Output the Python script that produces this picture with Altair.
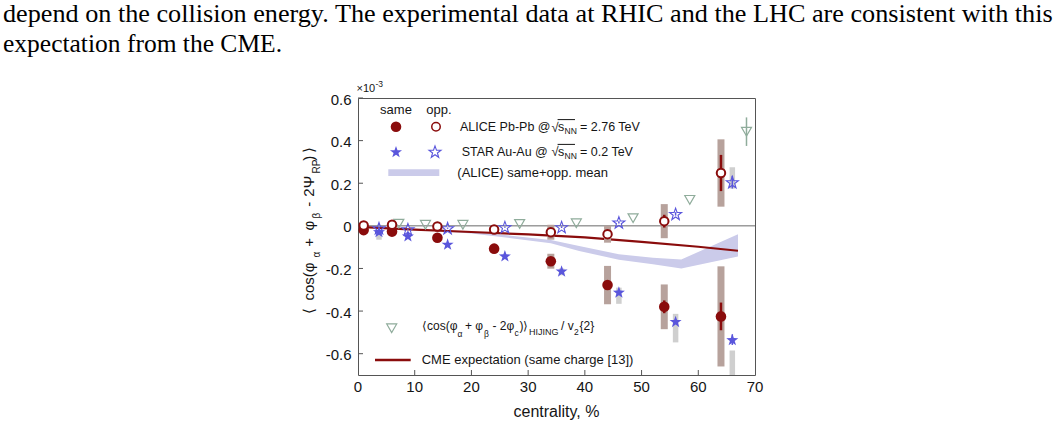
import math
import altair as alt
import pandas as pd

# ---------------- data (units of 1e-3) ----------------
x_ticks = [0, 10, 20, 30, 40, 50, 60, 70]
y_ticks = [-0.6, -0.4, -0.2, 0, 0.2, 0.4, 0.6]
x_minor = [10, 20, 30, 40, 50, 60]

alice_x = [1, 6, 14, 24, 34, 44, 54, 64]
alice_same = [-0.020, -0.027, -0.056, -0.107, -0.166, -0.278, -0.380, -0.425]
alice_same_stat = [0.004, 0.004, 0.005, 0.008, 0.012, 0.020, 0.030, 0.065]
alice_same_sys = [0.004, 0.004, 0.008, 0.012, 0.035, 0.090, 0.105, 0.235]
alice_opp = [0.002, 0.005, -0.003, -0.017, -0.030, -0.039, 0.022, 0.248]
alice_opp_stat = [0.004, 0.004, 0.004, 0.006, 0.010, 0.015, 0.030, 0.085]
alice_opp_sys = [0.004, 0.004, 0.006, 0.010, 0.035, 0.040, 0.080, 0.158]

star_x = [3.7, 8.8, 15.8, 25.9, 35.9, 46.0, 56.0, 66.0]
star_same = [-0.027, -0.047, -0.086, -0.141, -0.212, -0.311, -0.449, -0.534]
star_same_stat = [0.004, 0.004, 0.004, 0.005, 0.006, 0.008, 0.012, 0.025]
star_opp = [-0.011, -0.016, -0.011, -0.006, -0.006, 0.016, 0.056, 0.205]
star_opp_stat = [0.003, 0.003, 0.003, 0.003, 0.004, 0.005, 0.008, 0.030]

star_box_x = [3.7, 35.9, 46.0, 56.0, 66.0, 66.0]
star_box_lo = [-0.065, -0.232, -0.366, -0.547, -0.750, 0.175]
star_box_hi = [-0.020, -0.200, -0.290, -0.413, -0.585, 0.275]

hijing_x = [7.2, 11.9, 18.5, 28.5, 38.5, 48.5, 58.5, 68.5]
hijing_y = [0.010, 0.005, 0.005, 0.009, 0.012, 0.036, 0.122, 0.442]
hijing_err = [0.0, 0.0, 0.0, 0.0, 0.0, 0.0, 0.0, 0.067]

cme_x = [1, 10, 20, 30, 40, 50, 60, 67]
cme_y = [-0.006, -0.018, -0.029, -0.040, -0.054, -0.075, -0.098, -0.117]

band_x = [16, 20, 27, 34, 39, 46, 52, 57, 67]
band_hi = [-0.024, -0.029, -0.046, -0.066, -0.094, -0.133, -0.150, -0.158, -0.039]
band_lo = [-0.028, -0.036, -0.058, -0.082, -0.118, -0.159, -0.180, -0.200, -0.144]

# ---------------- styling ----------------
SANS = "Liberation Sans"
SERIF = "Liberation Serif"
RED = "#8a0c0c"
BLUE = "#5a56dc"
GREEN = "#8fac9b"
BAND = "#cbcbea"
ABOX = "#b7a29c"
SBOX = "#cfcfcf"
TXT = "#151515"
X0, Y0 = 358, 98          # top-left of the plot frame in page pixels
W, H = 397, 277

XS = alt.Scale(domain=[0, 70], nice=False, zero=False)
YS = alt.Scale(domain=[-0.7, 0.6], nice=False, zero=False)


def ex(f):
    return alt.X(f"{f}:Q", scale=XS, axis=None)


def ey(f):
    return alt.Y(f"{f}:Q", scale=YS, axis=None)


# five-point star path
pts = []
for k in range(10):
    r = 1.0 if k % 2 == 0 else 0.40
    a = math.radians(-90 + 36 * k)
    pts.append(f"{r * math.cos(a):.3f},{r * math.sin(a) + 0.08:.3f}")
STAR = "M" + "L".join(pts) + "Z"

# ---------------- tables ----------------
alice = pd.DataFrame({
    "x": alice_x,
    "same": alice_same,
    "opp": alice_opp,
    "same_lo": [v - e for v, e in zip(alice_same, alice_same_stat)],
    "same_hi": [v + e for v, e in zip(alice_same, alice_same_stat)],
    "opp_lo": [v - e for v, e in zip(alice_opp, alice_opp_stat)],
    "opp_hi": [v + e for v, e in zip(alice_opp, alice_opp_stat)],
    "same_slo": [v - e for v, e in zip(alice_same, alice_same_sys)],
    "same_shi": [v + e for v, e in zip(alice_same, alice_same_sys)],
    "opp_slo": [v - e for v, e in zip(alice_opp, alice_opp_sys)],
    "opp_shi": [v + e for v, e in zip(alice_opp, alice_opp_sys)],
})
star = pd.DataFrame({
    "x": star_x,
    "same": star_same,
    "opp": star_opp,
    "same_lo": [v - e for v, e in zip(star_same, star_same_stat)],
    "same_hi": [v + e for v, e in zip(star_same, star_same_stat)],
    "opp_lo": [v - e for v, e in zip(star_opp, star_opp_stat)],
    "opp_hi": [v + e for v, e in zip(star_opp, star_opp_stat)],
})
sbox = pd.DataFrame({"x": star_box_x, "lo": star_box_lo, "hi": star_box_hi})
hij = pd.DataFrame({
    "x": hijing_x, "y": hijing_y,
    "lo": [v - e for v, e in zip(hijing_y, hijing_err)],
    "hi": [v + e for v, e in zip(hijing_y, hijing_err)],
})
cme = pd.DataFrame({"x": cme_x, "y": cme_y})
band = pd.DataFrame({"x": band_x, "hi": band_hi, "lo": band_lo})


def ylab(v):
    if v == 0:
        return "0"
    return ("-" if v < 0 else "") + f"{abs(v):.1f}"


xlab_df = pd.DataFrame({"x": x_ticks, "t": [str(v) for v in x_ticks]})
ylab_df = pd.DataFrame({"y": y_ticks, "t": [ylab(v) for v in y_ticks]})

layers = []

# band
layers.append(alt.Chart(band).mark_area(color=BAND, opacity=1).encode(
    x=ex("x"), y=ey("hi"), y2=alt.Y2("lo:Q")))

# zero line
layers.append(alt.Chart(pd.DataFrame({"y": [0]})).mark_rule(color="#6a6a6a", strokeWidth=1).encode(y=ey("y")))

# inward tick marks
layers.append(alt.Chart(pd.DataFrame({"x": x_minor})).mark_rule(color="#555", strokeWidth=1).encode(
    x=ex("x"), y=alt.value(H), y2=alt.value(H - 5)))
layers.append(alt.Chart(pd.DataFrame({"y": y_ticks})).mark_rule(color="#555", strokeWidth=1).encode(
    y=ey("y"), x=alt.value(0), x2=alt.value(5)))

# tick labels
layers.append(alt.Chart(xlab_df).mark_text(font=SANS, fontSize=15, color=TXT, align="center",
                                           baseline="alphabetic").encode(
    x=ex("x"), y=alt.value(391.7 - Y0), text="t:N"))
layers.append(alt.Chart(ylab_df).mark_text(font=SANS, fontSize=15, color=TXT, align="right",
                                           baseline="alphabetic", dy=6.5).encode(
    y=ey("y"), x=alt.value(-6.5), text="t:N"))

# CME expectation
layers.append(alt.Chart(cme).mark_line(color=RED, strokeWidth=2.2).encode(x=ex("x"), y=ey("y")))

# systematic boxes
layers.append(alt.Chart(alice).mark_rule(color=ABOX, strokeWidth=7).encode(
    x=ex("x"), y=ey("same_slo"), y2=alt.Y2("same_shi:Q")))
layers.append(alt.Chart(alice).mark_rule(color=ABOX, strokeWidth=7).encode(
    x=ex("x"), y=ey("opp_slo"), y2=alt.Y2("opp_shi:Q")))
layers.append(alt.Chart(sbox).mark_rule(color=SBOX, strokeWidth=5.5, clip=True).encode(
    x=ex("x"), y=ey("lo"), y2=alt.Y2("hi:Q")))

# statistical error bars
layers.append(alt.Chart(alice).mark_rule(color=RED, strokeWidth=2.5).encode(
    x=ex("x"), y=ey("same_lo"), y2=alt.Y2("same_hi:Q")))
layers.append(alt.Chart(alice).mark_rule(color=RED, strokeWidth=2.5).encode(
    x=ex("x"), y=ey("opp_lo"), y2=alt.Y2("opp_hi:Q")))
layers.append(alt.Chart(star).mark_rule(color=BLUE, strokeWidth=1.5).encode(
    x=ex("x"), y=ey("same_lo"), y2=alt.Y2("same_hi:Q")))
layers.append(alt.Chart(star).mark_rule(color=BLUE, strokeWidth=1.5).encode(
    x=ex("x"), y=ey("opp_lo"), y2=alt.Y2("opp_hi:Q")))
layers.append(alt.Chart(hij).mark_rule(color=GREEN, strokeWidth=1.5).encode(
    x=ex("x"), y=ey("lo"), y2=alt.Y2("hi:Q")))

# markers
layers.append(alt.Chart(hij).mark_point(shape="triangle-down", size=100, filled=False,
                                        color=GREEN, strokeWidth=1.2, opacity=1).encode(x=ex("x"), y=ey("y")))
layers.append(alt.Chart(star).mark_point(shape=STAR, size=160, filled=False, fill="white", fillOpacity=0,
                                         stroke=BLUE, strokeWidth=1.1, opacity=1).encode(x=ex("x"), y=ey("opp")))
layers.append(alt.Chart(star).mark_point(shape=STAR, size=160, filled=True, color=BLUE, opacity=1).encode(
    x=ex("x"), y=ey("same")))
layers.append(alt.Chart(alice).mark_point(shape="circle", size=112, filled=True, color=RED, opacity=1).encode(
    x=ex("x"), y=ey("same")))
layers.append(alt.Chart(alice).mark_point(shape="circle", size=72, filled=False, fill="white", fillOpacity=1,
                                          stroke=RED, strokeWidth=2, opacity=1).encode(x=ex("x"), y=ey("opp")))

# ---------------- annotation helpers (page pixel positions) ----------------
ONE = pd.DataFrame({"a": [0]})


def label(text, px, py, size=13, align="left", angle=0, color=TXT, font=SANS):
    return alt.Chart(pd.DataFrame({"t": [text]})).mark_text(
        align=align, baseline="alphabetic", fontSize=size, font=font, color=color, angle=angle
    ).encode(text="t:N", x=alt.value(px - X0), y=alt.value(py - Y0))


def symbol(px, py, **kw):
    return alt.Chart(ONE).mark_point(opacity=1, **kw).encode(x=alt.value(px - X0), y=alt.value(py - Y0))


def hline(px1, px2, py, color, width):
    return alt.Chart(ONE).mark_rule(color=color, strokeWidth=width).encode(
        x=alt.value(px1 - X0), x2=alt.value(px2 - X0), y=alt.value(py - Y0))


# paragraph above the figure
layers.append(label("depend on the collision energy. The experimental data at RHIC and the LHC are consistent with this",
                    3, 22, size=26.2, font=SERIF, color="#000"))
layers.append(label("expectation from the CME.", 3, 52, size=25.5, font=SERIF, color="#000"))

# exponent
layers.append(label("×10", 356.5, 91.5, size=11))
layers.append(label("-3", 375.5, 86.5, size=8.5))

# legend
LEG = 12.5
layers.append(label("same", 396, 114, size=13, align="center"))
layers.append(label("opp.", 439, 114, size=13, align="center"))
layers.append(symbol(396, 126.7, shape="circle", size=112, filled=True, color=RED))
layers.append(symbol(436, 126.7, shape="circle", size=72, filled=False, fill="white", fillOpacity=1,
                     stroke=RED, strokeWidth=1.5))
layers.append(symbol(396, 151.7, shape=STAR, size=160, filled=True, color=BLUE))
layers.append(symbol(435, 151.7, shape=STAR, size=160, filled=False, stroke=BLUE, strokeWidth=1.1))
layers.append(alt.Chart(ONE).mark_rect(color=BAND).encode(
    x=alt.value(388.3 - X0), x2=alt.value(439.3 - X0), y=alt.value(169.3 - Y0), y2=alt.value(176 - Y0)))

layers.append(label("ALICE Pb-Pb @", 460, 130.7, size=LEG))
layers.append(label("√", 551.5, 131.5, size=13))
layers.append(label("s", 558, 130.7, size=LEG))
layers.append(label("NN", 564.5, 134.2, size=8.5))
layers.append(hline(557.6, 575, 119.6, TXT, 1))
layers.append(label("= 2.76 TeV", 580, 130.7, size=LEG))

layers.append(label("STAR Au-Au @", 461.7, 155.5, size=LEG))
layers.append(label("√", 551.5, 156.3, size=13))
layers.append(label("s", 558, 155.5, size=LEG))
layers.append(label("NN", 564.5, 159, size=8.5))
layers.append(hline(557.6, 575, 144.4, TXT, 1))
layers.append(label("= 0.2 TeV", 580, 155.5, size=LEG))

layers.append(label("(ALICE) same+opp. mean", 457.3, 176.5))

layers.append(symbol(391.7, 328.3, shape="triangle-down", size=100, filled=False, color=GREEN, strokeWidth=1.2))
layers.append(label("⟨cos(φ", 422, 330, size=12))
layers.append(label("α", 457.5, 336.5, size=8.5))
layers.append(label("+ φ", 465, 330, size=12))
layers.append(label("β", 484, 336.5, size=8.5))
layers.append(label("- 2φ", 492.5, 330, size=12))
layers.append(label("c", 514.5, 336, size=8.5))
layers.append(label(")⟩", 519.5, 330, size=12))
layers.append(label("HIJING", 529, 334.5, size=9))
layers.append(label("/ v", 561, 330, size=12))
layers.append(label("2", 574, 334.5, size=8.5))
layers.append(label("{2}", 579.5, 330, size=12))

layers.append(hline(375, 410.7, 360, RED, 2.5))
layers.append(label("CME expectation (same charge [13])", 421.7, 363.5))

# axis titles
layers.append(label("centrality, %", 556.5, 416.5, size=16, align="center"))
YT_MAIN, YT_SUB = 313.5, 319.5
for text, pos, sub in [("⟨", 313.5, False), ("cos(φ", 300.5, False), ("α", 257.5, True),
                       ("+", 246.7, False), ("φ", 230.5, False), ("β", 218.5, True),
                       ("-", 206.7, False), ("2Ψ", 196.7, False), ("RP", 173.5, True),
                       (")", 160.7, False), ("⟩", 153.3, False)]:
    layers.append(label(text, YT_SUB if sub else YT_MAIN, pos, size=10 if sub else 15, angle=270))

chart = alt.layer(*layers).properties(
    width=W, height=H,
    autosize=alt.AutoSizeParams(type="none"),
    padding={"left": X0, "top": Y0, "right": 1060 - X0 - W, "bottom": 427 - Y0 - H},
    background="white",
).configure_view(stroke="#555", strokeWidth=1)

chart.save("out.html", embed_options={"renderer": "svg", "actions": False})
